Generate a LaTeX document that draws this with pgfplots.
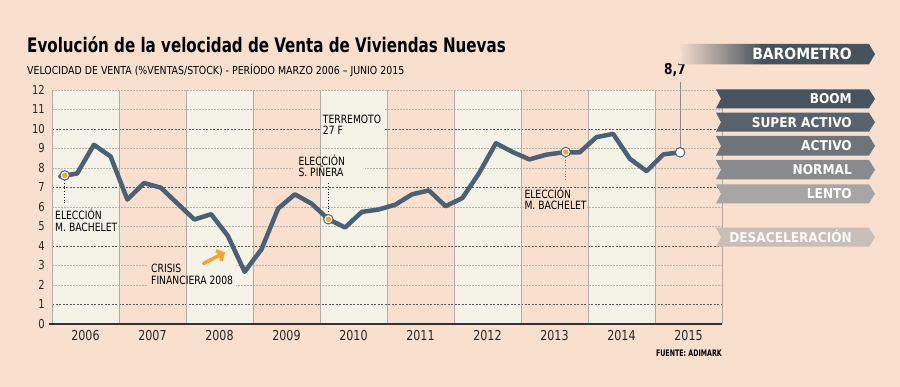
\documentclass[border=0pt]{standalone}
\usepackage{pgfplots}
\pgfplotsset{compat=1.18}
\usepackage{fontspec}
\setmainfont{DejaVu Sans Condensed}[FakeStretch=0.9, BoldFont={DejaVu Sans Condensed Bold}]
\newfontfamily\titlefont{DejaVu Sans Condensed Bold}[FakeStretch=0.84]
\newfontfamily\subfont{DejaVu Sans Condensed}[FakeStretch=0.95]
\newfontfamily\banfont{DejaVu Sans Condensed Bold}
\newfontfamily\srcfont{DejaVu Sans Condensed Bold}[FakeStretch=0.78]
\usetikzlibrary{arrows.meta}
\definecolor{bg}{HTML}{F9DFCE}
\definecolor{cream}{HTML}{F5F2E7}
\definecolor{sep}{HTML}{B3ABA5}
\definecolor{gridd}{HTML}{5A5A5A}
\definecolor{gridl}{HTML}{B8B2AC}
\definecolor{lin}{HTML}{4A6175}
\definecolor{orng}{HTML}{F3A42E}
\definecolor{bar0}{HTML}{46525C}
\definecolor{bar1}{HTML}{47535E}
\definecolor{bar2}{HTML}{58636D}
\definecolor{bar3}{HTML}{6E7479}
\definecolor{bar4}{HTML}{8A8B8E}
\definecolor{bar5}{HTML}{A8A6A5}
\definecolor{bar6}{HTML}{C9BFB9}
\newcommand{\banner}[5]{%
  \fill[#3] (716,#1) -- (869,#1) -- (875,{(#1+#2)/2}) -- (869,#2) -- (716,#2) -- (721,{(#1+#2)/2}) -- cycle;
  \node[anchor=base east, inner sep=0pt, text=#5, font=\fontsize{13.5}{15}\banfont] at (852,{(#1+#2)/2-4.9}) {#4};
}
\begin{document}
\begin{tikzpicture}
\fill[bg] (0,0) rectangle (900pt,387pt);
\begin{axis}[
  at={(52pt,63pt)}, anchor=south west,
  scale only axis, width=670pt, height=234pt,
  xmin=2006, xmax=2016, ymin=0, ymax=12,
  clip=false,
  axis line style={draw=none},
  tick style={draw=none},
  /pgf/number format/assume math mode=true,
  xtick={2006.5,2007.5,2008.5,2009.5,2010.5,2011.5,2012.5,2013.5,2014.5,2015.5},
  xticklabels={2006,2007,2008,2009,2010,2011,2012,2013,2014,2015},
  xticklabel style={anchor=base, inner sep=0pt, yshift=-17pt, font=\fontsize{13.7}{16}\selectfont, text=black!85},
  ytick={0,1,...,12},
  yticklabel style={anchor=east, inner sep=0pt, xshift=-7pt, font=\fontsize{12.3}{14}\selectfont, text=black!85},
]
% alternating bands
\fill[cream] (axis cs:2006,0) rectangle (axis cs:2007,12);
\fill[cream] (axis cs:2008,0) rectangle (axis cs:2009,12);
\fill[cream] (axis cs:2010,0) rectangle (axis cs:2011,12);
\fill[cream] (axis cs:2012,0) rectangle (axis cs:2013,12);
\fill[cream] (axis cs:2014,0) rectangle (axis cs:2015,12);
% grid lines
\draw[gridd, line width=0.6pt, dash pattern=on 2pt off 1.5pt] (axis cs:2006,1) -- (axis cs:2016,1);
\draw[gridd, line width=0.6pt, dash pattern=on 2pt off 1.5pt] (axis cs:2006,4) -- (axis cs:2016,4);
\draw[gridd, line width=0.6pt, dash pattern=on 2pt off 1.5pt] (axis cs:2006,7) -- (axis cs:2016,7);
\draw[gridd, line width=0.6pt, dash pattern=on 2pt off 1.5pt] (axis cs:2006,10) -- (axis cs:2016,10);
\draw[gridl, line width=0.6pt, dash pattern=on 1.5pt off 1.5pt] (axis cs:2006,2) -- (axis cs:2016,2);
\draw[gridl, line width=0.6pt, dash pattern=on 1.5pt off 1.5pt] (axis cs:2006,3) -- (axis cs:2016,3);
\draw[gridl, line width=0.6pt, dash pattern=on 1.5pt off 1.5pt] (axis cs:2006,5) -- (axis cs:2016,5);
\draw[gridl, line width=0.6pt, dash pattern=on 1.5pt off 1.5pt] (axis cs:2006,6) -- (axis cs:2016,6);
\draw[gridl, line width=0.6pt, dash pattern=on 1.5pt off 1.5pt] (axis cs:2006,8) -- (axis cs:2016,8);
\draw[gridl, line width=0.6pt, dash pattern=on 1.5pt off 1.5pt] (axis cs:2006,9) -- (axis cs:2016,9);
\draw[gridl, line width=0.6pt, dash pattern=on 1.5pt off 1.5pt] (axis cs:2006,11) -- (axis cs:2016,11);
\draw[gridl, line width=0.6pt, dash pattern=on 1.5pt off 1.5pt] (axis cs:2006,12) -- (axis cs:2016,12);
% label backgrounds
\fill[cream] (axis cs:2006.01,4.62) rectangle (axis cs:2006.98,5.9);
\fill[bg] (axis cs:2007.43,1.79) rectangle (axis cs:2008,3.18);
\fill[cream] (axis cs:2008,1.79) rectangle (axis cs:2008.75,3.18);
\fill[bg] (axis cs:2009.6,7.33) rectangle (axis cs:2010,8.67);
\fill[cream] (axis cs:2010,7.33) rectangle (axis cs:2010.67,8.67);
\fill[cream] (axis cs:2010.02,9.59) rectangle (axis cs:2010.97,11.23);
\fill[bg] (axis cs:2013.04,5.74) rectangle (axis cs:2013.98,6.92);
% year separators
\draw[sep, line width=0.8pt] (axis cs:2006,0) -- (axis cs:2006,12);
\draw[sep, line width=0.8pt] (axis cs:2007,0) -- (axis cs:2007,12);
\draw[sep, line width=0.8pt] (axis cs:2008,0) -- (axis cs:2008,12);
\draw[sep, line width=0.8pt] (axis cs:2009,0) -- (axis cs:2009,12);
\draw[sep, line width=0.8pt] (axis cs:2010,0) -- (axis cs:2010,12);
\draw[sep, line width=0.8pt] (axis cs:2011,0) -- (axis cs:2011,12);
\draw[sep, line width=0.8pt] (axis cs:2012,0) -- (axis cs:2012,12);
\draw[sep, line width=0.8pt] (axis cs:2013,0) -- (axis cs:2013,12);
\draw[sep, line width=0.8pt] (axis cs:2014,0) -- (axis cs:2014,12);
\draw[sep, line width=0.8pt] (axis cs:2015,0) -- (axis cs:2015,12);
\draw[sep, line width=0.8pt] (axis cs:2016,0) -- (axis cs:2016,12);
% leader lines
\draw[black, line width=0.8pt, dotted] (axis cs:2006.19,7.38) -- (axis cs:2006.19,6.2);
\draw[black, line width=0.8pt, dotted] (axis cs:2010.125,7.22) -- (axis cs:2010.125,5.68);
\draw[black!55, line width=0.8pt, dotted] (axis cs:2013.667,8.57) -- (axis cs:2013.667,7.3);
\draw[black!45, line width=1.1pt] (axis cs:2015.375,12.41) -- (axis cs:2015.375,9.0);
% data
\addplot[lin, line width=4.5pt, line join=round, line cap=round] coordinates {
(2006.125,7.57) (2006.375,7.72) (2006.625,9.19) (2006.875,8.59)
(2007.125,6.38) (2007.375,7.23) (2007.625,6.99) (2007.875,6.17)
(2008.125,5.36) (2008.375,5.63) (2008.625,4.52) (2008.875,2.68)
(2009.125,3.82) (2009.375,5.92) (2009.625,6.65) (2009.875,6.17)
(2010.125,5.37) (2010.375,4.95) (2010.625,5.75) (2010.875,5.87)
(2011.125,6.12) (2011.375,6.65) (2011.625,6.85) (2011.875,6.04)
(2012.125,6.46) (2012.375,7.74) (2012.625,9.27) (2012.875,8.82)
(2013.125,8.44) (2013.375,8.68) (2013.625,8.80) (2013.875,8.80)
(2014.125,9.58) (2014.375,9.75) (2014.625,8.47) (2014.875,7.84)
(2015.125,8.70) (2015.375,8.80)
};
\addplot[lin, only marks, mark=*, mark size=5pt, mark options={fill=lin, draw=none}] coordinates {(2006.19,7.62) (2010.125,5.37) (2013.667,8.82) (2015.375,8.80)};
\addplot[white, only marks, mark=*, mark size=3.8pt, mark options={fill=white, draw=none}] coordinates {(2006.19,7.62) (2010.125,5.37) (2013.667,8.82) (2015.375,8.80)};
\addplot[orng, only marks, mark=*, mark size=2.4pt, mark options={fill=orng, draw=none}] coordinates {(2006.19,7.62) (2010.125,5.37) (2013.667,8.82)};
% bottom axis line
\draw[black!80, line width=1.5pt] (axis cs:2005.95,0) -- (axis cs:2016,0);
\end{axis}
\begin{scope}[x=1pt,y=1pt]
% titles
\node[anchor=base west, inner sep=0pt, font=\fontsize{20}{24}\titlefont] at (27,334.7) {Evolución de la velocidad de Venta de Viviendas Nuevas};
\node[anchor=base west, inner sep=0pt, font=\fontsize{11}{13}\subfont] at (27,312.7) {VELOCIDAD DE VENTA (\%VENTAS/STOCK) - PERÍODO MARZO 2006 – JUNIO 2015};
% annotations
\tikzset{lab/.style={anchor=base west, inner sep=0pt, font=\fontsize{11.4}{13}\selectfont}}
\node[lab] at (55,167) {ELECCIÓN};
\node[lab] at (55,155.3) {M. BACHELET};
\node[lab] at (151,114) {CRISIS};
\node[lab] at (151,102) {FINANCIERA 2008};
\node[lab] at (322.7,263.7) {TERREMOTO};
\node[lab] at (322.7,252) {27 F};
\node[lab] at (298.3,221) {ELECCIÓN};
\node[lab] at (298.3,210.3) {S. PIÑERA};
\node[lab] at (524.3,188.7) {ELECCIÓN};
\node[lab] at (524.3,177.7) {M. BACHELET};
\draw[orng, line width=3.5pt, line cap=round, -{Straight Barb[length=5pt,width=11pt,line width=3.5pt]}] (203.5,123.5) -- (225,134.5);
\node[anchor=base, inner sep=0pt, font=\fontsize{15}{18}\bfseries] at (675,312) {8,7};
\node[anchor=base east, inner sep=0pt, font=\fontsize{9}{10}\srcfont] at (722,30) {FUENTE: ADIMARK};
% barometer
\shade[left color=bg, right color=bar0] (678,343) -- (762,343) -- (762,322.7) -- (678,322.7) -- (683,332.85) -- cycle;
\fill[bar0] (761.5,343) -- (869,343) -- (875,332.85) -- (869,322.7) -- (761.5,322.7) -- cycle;
\node[anchor=base east, inner sep=0pt, text=white, font=\fontsize{15.5}{18}\banfont] at (852,327.2) {BAROMETRO};
\banner{297.7}{278.7}{bar1}{BOOM}{white}
\banner{274.3}{255.3}{bar2}{SUPER ACTIVO}{white}
\banner{251}{231.3}{bar3}{ACTIVO}{white}
\banner{227}{207.7}{bar4}{NORMAL}{white}
\banner{202.7}{183.7}{bar5}{LENTO}{white}
\banner{159.3}{140.3}{bar6}{DESACELERACIÓN}{white!90!bar6}
\end{scope}
\pgfresetboundingbox
\path[use as bounding box] (0,0) rectangle (900pt,387pt);
\end{tikzpicture}
\end{document}
